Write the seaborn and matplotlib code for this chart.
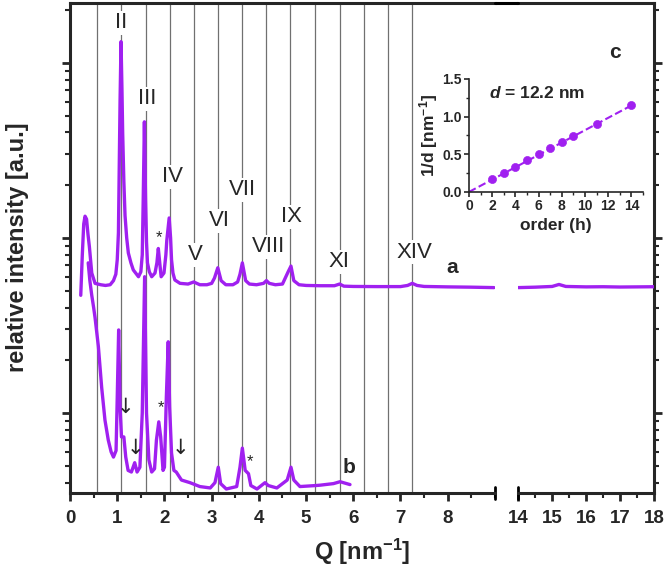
import matplotlib
matplotlib.use("Agg")
import matplotlib.pyplot as plt
import matplotlib.ticker as mticker
from matplotlib.lines import Line2D
import seaborn as sns

# ---- data ----
# curve a (upper), Q in nm^-1, relative intensity
q_a = [0.227, 0.26, 0.29, 0.318, 0.35, 0.38, 0.41, 0.46, 0.53, 0.65,
       0.75, 0.85, 0.92, 0.97, 1.00, 1.025, 1.06, 1.08, 1.10, 1.115,
       1.14, 1.165, 1.20, 1.235, 1.29, 1.34, 1.45, 1.50, 1.53, 1.55,
       1.575, 1.60, 1.62, 1.64, 1.68, 1.73, 1.80, 1.84, 1.87, 1.90,
       1.93, 1.99, 2.03, 2.05, 2.10, 2.13, 2.15, 2.18, 2.22, 2.33,
       2.50, 2.62, 2.75, 2.90, 3.00, 3.06, 3.13, 3.20, 3.30, 3.45,
       3.55, 3.60, 3.65, 3.72, 3.80, 3.95, 4.10, 4.16, 4.22, 4.35,
       4.50, 4.62, 4.68, 4.74, 4.85, 5.00, 5.30, 5.60, 5.71, 5.80,
       6.00, 6.50, 7.00, 7.15, 7.25, 7.35, 7.50, 8.00, 8.50, 8.98]
i_a = [47, 80, 120, 133, 128, 105, 89, 63, 55, 54,
       53.5, 54, 57, 62, 75, 107, 615, 1320, 700, 398,
       210, 134, 100, 82, 72, 65.6, 60, 64, 80, 165,
       460, 165, 95, 72, 64, 60, 63, 72, 87, 72,
       60, 63, 80, 97, 130, 100, 75, 63, 57.5, 55,
       54.5, 56, 54, 54, 55, 59, 67.5, 57, 54, 54,
       56, 62, 72, 57, 54.5, 54, 55, 57, 55, 54,
       54.5, 64, 69, 57, 54, 53.5, 53.3, 53.3, 54.5, 53,
       52.8, 52.7, 52.7, 53.5, 55, 53.5, 52.8, 52.5, 52.3, 52]

# curve a, high-Q part (right panel)
q_a_hi = [14.0, 14.5, 15.0, 15.2, 15.4, 16.0, 16.5, 17.0, 17.5, 18.0]
i_a_hi = [52.0, 52.3, 52.8, 54.2, 52.8, 52.5, 52.6, 52.4, 52.5, 52.6]

# curve b (lower)
q_b = [0.385, 0.42, 0.46, 0.50, 0.53, 0.60, 0.67, 0.74, 0.81, 0.87,
       0.92, 0.975, 1.00, 1.03, 1.06, 1.09, 1.14, 1.18, 1.23, 1.30,
       1.37, 1.42, 1.48, 1.53, 1.58, 1.62, 1.67, 1.73, 1.79, 1.83,
       1.88, 1.92, 1.97, 2.00, 2.04, 2.08, 2.11, 2.15, 2.20, 2.25,
       2.36, 2.54, 2.75, 2.97, 3.07, 3.14, 3.19, 3.31, 3.53, 3.60,
       3.65, 3.71, 3.78, 3.83, 3.96, 4.13, 4.20, 4.38, 4.60, 4.68,
       4.74, 4.87, 5.20, 5.30, 5.58, 5.72, 5.93]
i_b = [72, 57, 47, 40, 35, 24, 14, 9.1, 7.0, 6.0,
       5.6, 6.1, 12.3, 29.8, 10.8, 7.3, 7.3, 5.6, 4.7, 4.6,
       5.2, 4.6, 4.9, 10, 60, 10, 5.4, 4.6, 4.8, 7.0,
       8.9, 7.3, 4.7, 4.9, 12.3, 25.5, 10.8, 5.9, 4.7, 4.6,
       4.14, 4.0, 3.8, 3.73, 4.0, 4.9, 3.95, 3.68, 3.8, 4.9,
       6.3, 4.7, 4.5, 3.85, 3.68, 4.0, 3.85, 3.73, 4.14, 4.9,
       4.14, 3.8, 3.85, 3.87, 3.95, 4.05, 3.9]

# Bragg positions (vertical lines)
bragg_q = [0.57, 1.08, 1.60, 2.11, 2.62, 3.13, 3.65, 4.16, 4.67, 5.19,
           5.71, 6.22, 6.74, 7.25]

# order labels
order_names = ["II", "III", "IV", "V", "VI", "VII", "VIII", "IX", "XI", "XIV"]
order_q = [1.08, 1.63, 2.18, 2.65, 3.16, 3.66, 4.20, 4.70, 5.70, 7.30]
order_i = [1693, 622, 223, 80, 125, 188, 89, 132, 73, 83]

# inset: 1/d vs order
order_h = [2, 3, 4, 5, 6, 7, 8, 9, 11, 14]
inv_d = [0.17, 0.25, 0.33, 0.42, 0.50, 0.58, 0.66, 0.74, 0.90, 1.15]
fit_h = [0, 14]
fit_inv_d = [0.0, 1.148]

purple = "#a020f0"

sns.set_style("ticks")
plt.rcParams["font.family"] = ["Liberation Sans", "DejaVu Sans"]
plt.rcParams["font.weight"] = "bold"
plt.rcParams["mathtext.fontset"] = "custom"
plt.rcParams["mathtext.rm"] = "Liberation Sans:bold"
plt.rcParams["mathtext.bf"] = "Liberation Sans:bold"
plt.rcParams["mathtext.it"] = "Liberation Sans:italic:bold"

fig = plt.figure(figsize=(6.67, 5.68), dpi=100)
ax = fig.add_axes([0.105, 0.132, 0.637, 0.863])
ax2 = fig.add_axes([0.777, 0.132, 0.2035, 0.863])

# vertical Bragg lines
for q in bragg_q:
    ax.axvline(q, color="#707070", lw=0.9, zorder=1)

sns.lineplot(x=q_a, y=i_a, ax=ax, color=purple, lw=2.4, estimator=None, sort=False, zorder=3)
sns.lineplot(x=q_b, y=i_b, ax=ax, color=purple, lw=2.4, estimator=None, sort=False, zorder=3)
sns.lineplot(x=q_a_hi, y=i_a_hi, ax=ax2, color=purple, lw=2.4, estimator=None, sort=False, zorder=3)

for a in (ax, ax2):
    a.set_yscale("log")
    a.set_ylim(3.49, 2200)
    a.set_xlabel("")
    a.set_ylabel("")
    a.tick_params(axis="both", which="major", direction="out", length=6, width=2,
                  labelsize=13.5, pad=6)
    a.tick_params(axis="both", which="minor", direction="out", length=3.5, width=1.5)
    for s in a.spines.values():
        s.set_linewidth(2.2)

ax.set_xlim(0, 9)
ax.set_xticks(range(0, 9))
ax.xaxis.set_minor_locator(mticker.MultipleLocator(0.5))
ax.spines["right"].set_visible(False)
ax.tick_params(axis="y", which="both", labelleft=False)

ax2.set_xlim(14, 18)
ax2.set_xticks(range(14, 19))
ax2.xaxis.set_minor_locator(mticker.MultipleLocator(0.5))
ax2.spines["left"].set_visible(False)
ax2.yaxis.tick_right()
ax2.tick_params(axis="y", which="both", labelright=False)

for a in (ax, ax2):
    for lbl in a.get_xticklabels():
        lbl.set_fontweight("bold")

# break caps
ax.axvline(9, ymin=-0.012, ymax=0.012, color="k", lw=2, clip_on=False)
ax2.axvline(14, ymin=-0.012, ymax=0.012, color="k", lw=2, clip_on=False)
# continuous top frame over the gap
fig.add_artist(Line2D([0.742, 0.777], [0.995, 0.995], transform=fig.transFigure,
                      color="k", lw=2.2))

# order labels
for name, q, i in zip(order_names, order_q, order_i):
    ax.text(q, i, name, ha="center", va="center", fontsize=16, fontweight="normal",
            zorder=2, bbox=dict(facecolor="white", edgecolor="none", pad=1))

ax.text(8.1, 68, "a", ha="center", va="center", fontsize=15, fontweight="bold")
ax.text(5.91, 4.9, "b", ha="center", va="center", fontsize=15, fontweight="bold")

for q, i in [(1.89, 101), (1.92, 10.7), (3.82, 5.25)]:
    ax.text(q, i, "*", ha="center", va="center", fontsize=12, fontweight="normal")
for q, i in [(1.17, 10.8), (1.38, 6.3), (2.33, 6.3)]:
    ax.text(q, i, "\u2193", ha="center", va="center", fontsize=15, fontweight="normal",
            family=["DejaVu Sans"])

fig.text(0.543, 0.028, "Q [nm$^{-1}$]", ha="center", va="center", fontsize=17,
         fontweight="bold")
fig.text(0.026, 0.565, "relative intensity [a.u.]", ha="center", va="center",
         rotation=90, fontsize=17, fontweight="bold")

# inset
ax_in = fig.add_axes([0.703, 0.662, 0.261, 0.199])
ax_in.set_facecolor("none")
sns.lineplot(x=fit_h, y=fit_inv_d, ax=ax_in, color=purple, lw=1.5, ls="--",
             estimator=None, sort=False)
sns.scatterplot(x=order_h, y=inv_d, ax=ax_in, color=purple, s=34, edgecolor=purple,
                zorder=3)
ax_in.set_xlim(0, 15)
ax_in.set_ylim(0, 1.5)
ax_in.set_xticks(range(0, 15, 2))
ax_in.set_yticks([0.0, 0.5, 1.0, 1.5])
ax_in.xaxis.set_minor_locator(mticker.MultipleLocator(1))
ax_in.yaxis.set_minor_locator(mticker.MultipleLocator(0.25))
ax_in.yaxis.set_major_formatter(mticker.FormatStrFormatter("%.1f"))
ax_in.tick_params(which="major", direction="out", length=3.5, width=1.2, labelsize=10, pad=1.5)
ax_in.tick_params(which="minor", direction="out", length=2, width=1)
for lbl in ax_in.get_xticklabels() + ax_in.get_yticklabels():
    lbl.set_fontweight("bold")
sns.despine(ax=ax_in)
for s in ax_in.spines.values():
    s.set_linewidth(1.2)
ax_in.set_xlabel("order (h)", fontsize=12.5, fontweight="bold", labelpad=4)
ax_in.set_ylabel("1/d [nm$^{-1}$]", fontsize=12.5, fontweight="bold", labelpad=2)
ax_in.text(5.9, 1.31, r"$\mathit{d}$ = 12.2 nm", ha="center", va="center",
           fontsize=12.5, fontweight="bold")
fig.text(0.922, 0.908, "c", ha="center", va="center", fontsize=15, fontweight="bold")

fig.savefig("out.png", dpi=100)
